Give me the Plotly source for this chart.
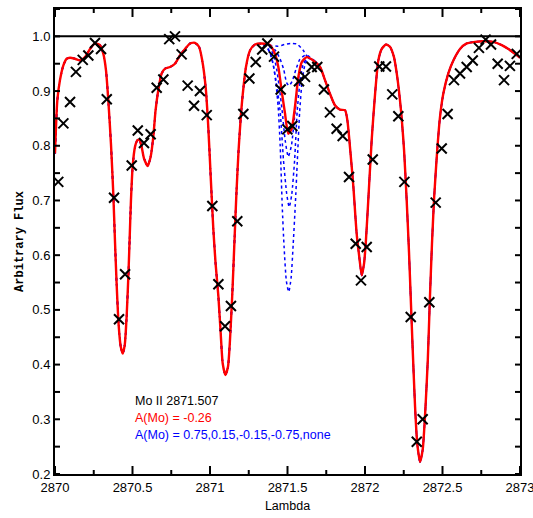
import plotly.graph_objects as go

# ---------------- observed spectrum (crosses) ----------------
obs_wave = [2870.021, 2870.054, 2870.097, 2870.135, 2870.179, 2870.215, 2870.258, 2870.297,
            2870.334, 2870.381, 2870.413, 2870.452, 2870.495, 2870.534, 2870.574, 2870.617,
            2870.656, 2870.699, 2870.737, 2870.774, 2870.817, 2870.856, 2870.897, 2870.935,
            2870.979, 2871.015, 2871.054, 2871.097, 2871.135, 2871.176, 2871.215, 2871.254,
            2871.295, 2871.337, 2871.370, 2871.413, 2871.456, 2871.499, 2871.531, 2871.574,
            2871.613, 2871.656, 2871.692, 2871.735, 2871.774, 2871.817, 2871.856, 2871.897,
            2871.940, 2871.974, 2872.011, 2872.050, 2872.092, 2872.135, 2872.176, 2872.215,
            2872.254, 2872.295, 2872.334, 2872.372, 2872.415, 2872.456, 2872.495, 2872.533,
            2872.574, 2872.613, 2872.656, 2872.695, 2872.735, 2872.778, 2872.813, 2872.856,
            2872.897, 2872.935, 2872.979]
obs_flux = [0.734, 0.841, 0.880, 0.935, 0.957, 0.965, 0.988, 0.977,
            0.885, 0.705, 0.483, 0.565, 0.764, 0.828, 0.805, 0.821,
            0.906, 0.921, 0.995, 1.000, 0.967, 0.910, 0.873, 0.900,
            0.856, 0.690, 0.547, 0.470, 0.507, 0.662, 0.858, 0.923,
            0.953, 0.976, 0.987, 0.963, 0.903, 0.830, 0.836, 0.918,
            0.926, 0.944, 0.944, 0.903, 0.861, 0.831, 0.818, 0.743,
            0.621, 0.554, 0.615, 0.775, 0.945, 0.945, 0.894, 0.854,
            0.734, 0.487, 0.259, 0.300, 0.514, 0.696, 0.795, 0.858,
            0.920, 0.932, 0.944, 0.956, 0.979, 0.994, 0.985, 0.950,
            0.920, 0.946, 0.968]

# ---------------- synthetic spectrum, A(Mo) = -0.26 (red) ----------------
model_wave = [2870.000, 2870.015, 2870.032, 2870.054, 2870.075, 2870.097, 2870.129, 2870.161,
              2870.194, 2870.226, 2870.258, 2870.290, 2870.312, 2870.329, 2870.344, 2870.361,
              2870.376, 2870.387, 2870.398, 2870.410, 2870.424, 2870.437, 2870.450, 2870.462,
              2870.473, 2870.481, 2870.490, 2870.501, 2870.516, 2870.531, 2870.544, 2870.559,
              2870.574, 2870.598, 2870.617, 2870.634, 2870.649, 2870.666, 2870.688, 2870.710,
              2870.742, 2870.774, 2870.806, 2870.839, 2870.871, 2870.903, 2870.929, 2870.950,
              2870.972, 2870.989, 2871.006, 2871.021, 2871.036, 2871.054, 2871.069, 2871.082,
              2871.099, 2871.116, 2871.129, 2871.144, 2871.157, 2871.170, 2871.184, 2871.198,
              2871.211, 2871.232, 2871.258, 2871.290, 2871.334, 2871.387, 2871.419, 2871.441,
              2871.462, 2871.484, 2871.505, 2871.527, 2871.548, 2871.570, 2871.592, 2871.624,
              2871.666, 2871.710, 2871.742, 2871.774, 2871.806, 2871.839, 2871.871, 2871.886,
              2871.903, 2871.925, 2871.946, 2871.963, 2871.979, 2871.994, 2872.006, 2872.021,
              2872.043, 2872.065, 2872.086, 2872.108, 2872.135, 2872.161, 2872.187, 2872.208,
              2872.230, 2872.252, 2872.269, 2872.284, 2872.296, 2872.308, 2872.323, 2872.337,
              2872.355, 2872.372, 2872.387, 2872.405, 2872.419, 2872.432, 2872.446, 2872.466,
              2872.484, 2872.505, 2872.537, 2872.570, 2872.613, 2872.656, 2872.710, 2872.763,
              2872.828, 2872.882, 2872.925, 2872.968, 2873.000]
model_flux = [0.786, 0.883, 0.920, 0.947, 0.959, 0.961, 0.959, 0.956,
              0.962, 0.977, 0.987, 0.984, 0.968, 0.938, 0.883, 0.804,
              0.713, 0.625, 0.545, 0.475, 0.433, 0.420, 0.436, 0.487,
              0.560, 0.625, 0.700, 0.762, 0.798, 0.810, 0.811, 0.798,
              0.777, 0.763, 0.780, 0.816, 0.865, 0.901, 0.932, 0.941,
              0.944, 0.950, 0.965, 0.977, 0.987, 0.988, 0.981, 0.956,
              0.907, 0.834, 0.735, 0.650, 0.585, 0.525, 0.457, 0.402,
              0.381, 0.396, 0.445, 0.530, 0.620, 0.710, 0.790, 0.850,
              0.893, 0.944, 0.974, 0.985, 0.987, 0.984, 0.968, 0.944,
              0.901, 0.859, 0.822, 0.831, 0.871, 0.926, 0.953, 0.962,
              0.956, 0.944, 0.920, 0.895, 0.874, 0.866, 0.865, 0.847,
              0.798, 0.725, 0.640, 0.597, 0.563, 0.585, 0.627, 0.700,
              0.810, 0.895, 0.956, 0.977, 0.985, 0.981, 0.962, 0.926,
              0.871, 0.792, 0.700, 0.605, 0.515, 0.426, 0.323, 0.256,
              0.222, 0.244, 0.305, 0.408, 0.524, 0.620, 0.705, 0.792,
              0.853, 0.895, 0.932, 0.956, 0.977, 0.987, 0.990, 0.991,
              0.990, 0.984, 0.977, 0.968, 0.961]

# ---------------- other abundances (blue dotted), near the Mo II line ----------------
win_lo, win_hi = 2871.33, 2871.67
mo_075_wave = [2871.33, 2871.36, 2871.39, 2871.41, 2871.425, 2871.44, 2871.453, 2871.466, 2871.478,
               2871.493, 2871.508, 2871.523, 2871.537, 2871.55, 2871.563, 2871.578, 2871.595,
               2871.615, 2871.64, 2871.67]
mo_075_flux = [0.986, 0.982, 0.968, 0.945, 0.915, 0.870, 0.800, 0.690, 0.615,
               0.552, 0.533, 0.558, 0.621, 0.690, 0.770, 0.860, 0.920,
               0.950, 0.960, 0.956]
mo_015_wave = [2871.33, 2871.37, 2871.40, 2871.425, 2871.452, 2871.474, 2871.495, 2871.511,
               2871.527, 2871.546, 2871.563, 2871.582, 2871.60, 2871.63, 2871.67]
mo_015_flux = [0.986, 0.980, 0.958, 0.920, 0.865, 0.774, 0.712, 0.688,
               0.710, 0.774, 0.865, 0.920, 0.948, 0.960, 0.956]
mo_m015_wave = [2871.33, 2871.38, 2871.41, 2871.43, 2871.45, 2871.465, 2871.485, 2871.505,
                2871.525, 2871.55, 2871.57, 2871.59, 2871.625, 2871.67]
mo_m015_flux = [0.987, 0.983, 0.965, 0.940, 0.900, 0.865, 0.810, 0.780,
                0.800, 0.865, 0.920, 0.950, 0.962, 0.956]
mo_m075_wave = [2871.33, 2871.38, 2871.42, 2871.45, 2871.475, 2871.495, 2871.51, 2871.53,
                2871.555, 2871.58, 2871.62, 2871.67]
mo_m075_flux = [0.987, 0.984, 0.975, 0.960, 0.940, 0.915, 0.910, 0.918,
                0.940, 0.958, 0.966, 0.956]
mo_none_wave = [2871.33, 2871.36, 2871.40, 2871.44, 2871.48, 2871.52, 2871.56, 2871.60,
                2871.63, 2871.67]
mo_none_flux = [0.987, 0.986, 0.983, 0.982, 0.985, 0.987, 0.986, 0.975,
                0.962, 0.956]

continuum = 1.0
x_range = [2870, 2873]
y_range = [0.2, 1.05]
x_ticks = [2870, 2870.5, 2871, 2871.5, 2872, 2872.5, 2873]
x_tick_text = ["2870", "2870.5", "2871", "2871.5", "2872", "2872.5", "2873"]
x_minor_ticks = [2870.25, 2870.75, 2871.25, 2871.75, 2872.25, 2872.75]
y_ticks = [0.2, 0.3, 0.4, 0.5, 0.6, 0.7, 0.8, 0.9, 1.0]
y_tick_text = ["0.2", "0.3", "0.4", "0.5", "0.6", "0.7", "0.8", "0.9", "1.0"]
y_minor_ticks = [0.25, 0.35, 0.45, 0.55, 0.65, 0.75, 0.85, 0.95, 1.05]
annot_lines = ["Mo II 2871.507", "A(Mo) = -0.26", "A(Mo) = 0.75,0.15,-0.15,-0.75,none"]
annot_colors = ["black", "#ff0000", "#0000ff"]
annot_y = [0.334, 0.303, 0.272]
annot_x = 2870.503


def full_curve(wl, fl):
    left = [(w, f) for w, f in zip(model_wave, model_flux) if w < win_lo]
    right = [(w, f) for w, f in zip(model_wave, model_flux) if w > win_hi]
    pts = left + list(zip(wl, fl)) + right
    return [p[0] for p in pts], [p[1] for p in pts]


fig = go.Figure()

BLUE = "#0000ff"
for wl, fl in [(mo_075_wave, mo_075_flux), (mo_015_wave, mo_015_flux),
               (mo_m015_wave, mo_m015_flux), (mo_m075_wave, mo_m075_flux),
               (mo_none_wave, mo_none_flux)]:
    xs, ys = full_curve(wl, fl)
    fig.add_trace(go.Scatter(x=xs, y=ys, mode="lines",
                             line=dict(color=BLUE, width=1.5, dash="dot",
                                       shape="spline", smoothing=0.6),
                             showlegend=False, hoverinfo="skip"))

fig.add_trace(go.Scatter(x=model_wave, y=model_flux, mode="lines",
                         line=dict(color="#ff0000", width=2.4, shape="spline", smoothing=0.6),
                         showlegend=False))

fig.add_trace(go.Scatter(x=x_range, y=[continuum, continuum], mode="lines",
                         line=dict(color="black", width=2), showlegend=False))

fig.add_trace(go.Scatter(x=obs_wave, y=obs_flux, mode="markers",
                         marker=dict(symbol="x-thin-open", size=10, color="black",
                                     line=dict(color="black", width=2)),
                         showlegend=False))

font_main = "Liberation Sans, Arial, sans-serif"

for txt, col, yy in zip(annot_lines, annot_colors, annot_y):
    fig.add_annotation(x=annot_x, y=yy, xref="x", yref="y", text=txt,
                       showarrow=False, xanchor="left", yanchor="middle",
                       font=dict(family=font_main, size=12.5, color=col))

# tick marks drawn inside the frame on all four sides (pixel-sized shapes)
tick_line = dict(color="black", width=2)
for vals, length in [(x_ticks, 8), (x_minor_ticks, 4)]:
    for v in vals:
        fig.add_shape(type="line", xref="x", yref="paper", x0=v, x1=v,
                      ysizemode="pixel", yanchor=0, y0=0, y1=length,
                      line=tick_line, layer="above")
        fig.add_shape(type="line", xref="x", yref="paper", x0=v, x1=v,
                      ysizemode="pixel", yanchor=1, y0=0, y1=-length,
                      line=tick_line, layer="above")
for vals, length in [(y_ticks, 5), (y_minor_ticks, 5)]:
    for v in vals:
        fig.add_shape(type="line", xref="paper", yref="y", y0=v, y1=v,
                      xsizemode="pixel", xanchor=0, x0=0, x1=length,
                      line=tick_line, layer="above")
        fig.add_shape(type="line", xref="paper", yref="y", y0=v, y1=v,
                      xsizemode="pixel", xanchor=1, x0=0, x1=-length,
                      line=tick_line, layer="above")

fig.update_layout(
    width=533, height=518,
    margin=dict(l=55, r=13, t=9, b=44, autoexpand=False),
    paper_bgcolor="white", plot_bgcolor="white",
    font=dict(family=font_main, size=12, color="black"),
    xaxis=dict(
        range=x_range, tickmode="array", tickvals=x_ticks, ticktext=x_tick_text,
        ticks="", showline=True, linecolor="black", linewidth=2, mirror=True,
        showgrid=False, zeroline=False, ticklabeloverflow="allow", automargin=False,
        tickfont=dict(family=font_main, size=13, color="black"),
        title=dict(text="Lambda", standoff=8,
                   font=dict(family=font_main, size=12.5, color="black")),
    ),
    yaxis=dict(
        range=y_range, tickmode="array", tickvals=y_ticks, ticktext=y_tick_text,
        ticks="", showline=True, linecolor="black", linewidth=2, mirror=True,
        showgrid=False, zeroline=False, automargin=False,
        tickfont=dict(family=font_main, size=13, color="black"),
        title=dict(text="<b>Arbitrary Flux</b>", standoff=6,
                   font=dict(family="Liberation Mono, DejaVu Sans Mono, monospace",
                             size=12, color="black")),
    ),
)

fig.write_html("out.html")
